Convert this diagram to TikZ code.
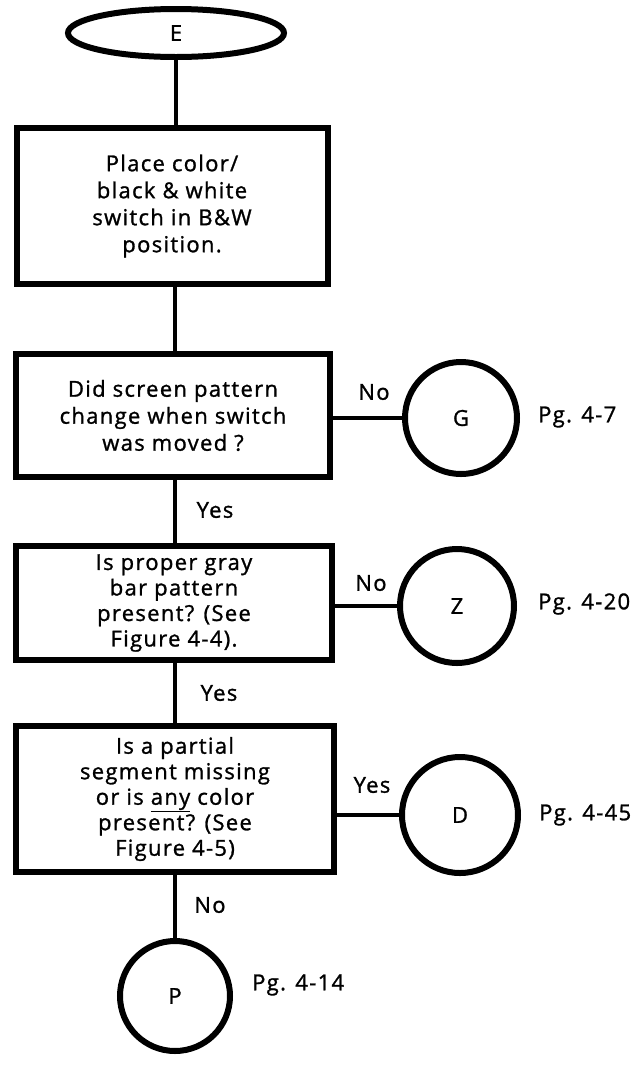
\documentclass[tikz,border=0pt]{standalone}
\usepackage{fontspec}
\setmainfont{Open Sans}[LetterSpace=6,FakeBold=1.2]
\usetikzlibrary{shapes.geometric}
\tikzset{
  boxnode/.style={draw, line width=6pt, rectangle, align=center, inner sep=0pt},
  termnode/.style={draw, line width=6pt, ellipse, inner sep=0pt},
  connode/.style={draw, line width=6pt, circle, inner sep=0pt},
  conn/.style={line width=3.5pt},
  lbl/.style={inner sep=0pt},
  txt/.style={font=\fontsize{22}{27}\selectfont},
  txtb/.style={font=\fontsize{22}{25.5}\selectfont}
}
\begin{document}
\begin{tikzpicture}[x=1pt,y=-1pt]
\useasboundingbox[fill=white] (0,0) rectangle (636,1080);
% terminal
\node[termnode, txt, minimum width=216pt, minimum height=48pt] (E) at (176,33) {E};
% boxes
\node[boxnode, txt, minimum width=311pt, minimum height=156pt] (b1) at (172,206)
  {Place color/\\black \& white\\switch in B\&W\\position.};
\node[boxnode, txt, minimum width=314pt, minimum height=123pt] (b2) at (173,415.5)
  {Did screen pattern\\change when switch\\was moved ?};
\node[boxnode, txtb, minimum width=316pt, minimum height=114pt] (b3) at (174,603)
  {Is proper gray\\bar pattern\\present? (See\\Figure 4-4).};
\node[boxnode, txtb, minimum width=318pt, minimum height=146pt] (b4) at (175,799)
  {Is a partial\\segment missing\\or is \underline{any} color\\present? (See\\Figure 4-5)};
% connectors (circles)
\node[connode, txt, minimum size=112pt] (G) at (461,418) {G};
\node[connode, txt, minimum size=114pt] (Z) at (457,606) {Z};
\node[connode, txt, minimum size=116pt] (D) at (460,815) {D};
\node[connode, txt, minimum size=110pt] (P) at (175,996) {P};
% vertical flow
\draw[conn] (E.south) -- (E.south |- b1.north);
\draw[conn] (b1.south -| P) -- (b2.north -| P);
\draw[conn] (b2.south -| P) -- (b3.north -| P);
\draw[conn] (b3.south -| P) -- (b4.north -| P);
\draw[conn] (b4.south -| P) -- (P.north);
% horizontal branches
\draw[conn] (G.west -| b2.east) -- (G.west);
\draw[conn] (Z.west -| b3.east) -- (Z.west);
\draw[conn] (D.west -| b4.east) -- (D.west);
% branch labels
\node[lbl, txt] (lno1) at (374,392) {No};
\node[lbl, txt] (lno2) at (371,583) {No};
\node[lbl, txt] (lyes3) at (372,785) {Yes};
\node[lbl, txt] (lyes1) at (215,510) {Yes};
\node[lbl, txt] (lyes2) at (219,693) {Yes};
\node[lbl, txt] (lno3) at (210,905) {No};
% page references
\node[lbl, txt, anchor=west] (pg) at (538,417) {Pg. 4-7};
\node[lbl, txt, anchor=west] (pz) at (538,604) {Pg. 4-20};
\node[lbl, txt, anchor=west] (pd) at (539,815) {Pg. 4-45};
\node[lbl, txt, anchor=west] (pp) at (252,985) {Pg. 4-14};
\end{tikzpicture}
\end{document}
